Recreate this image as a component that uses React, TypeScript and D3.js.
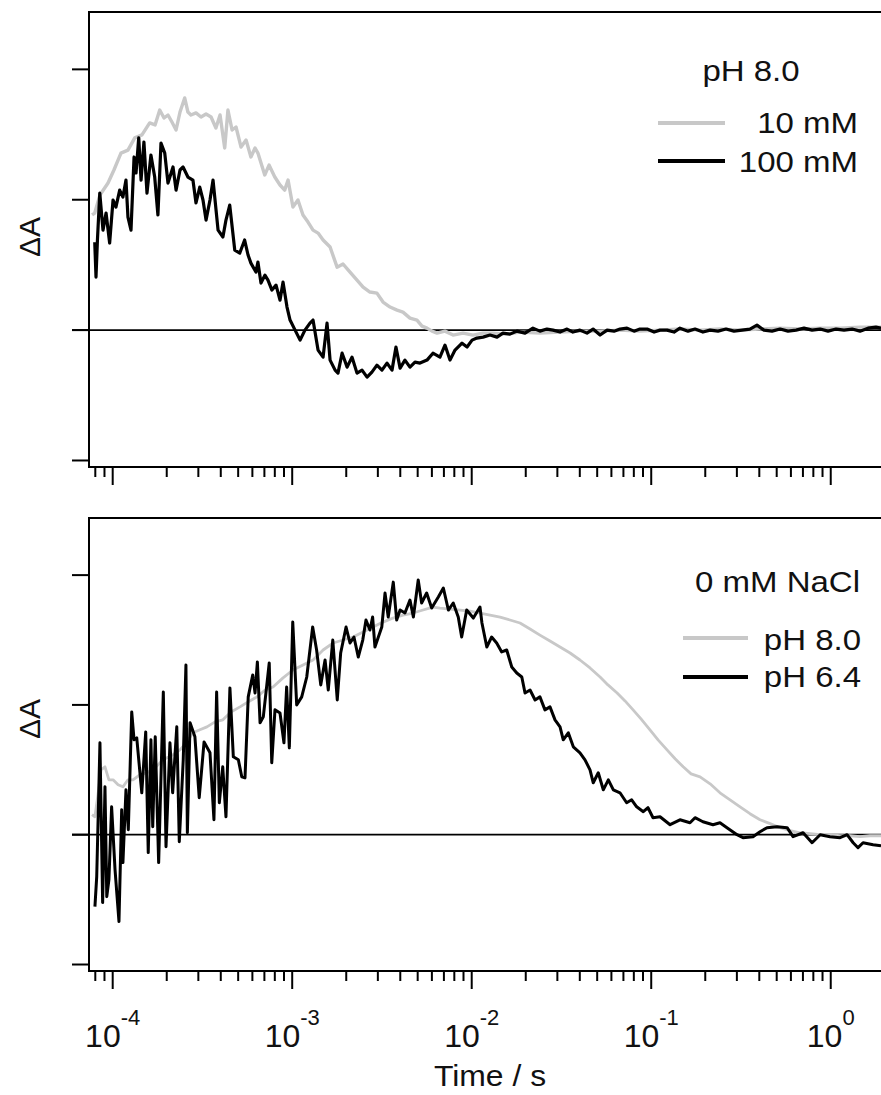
import React from 'react';
import * as d3 from 'd3';

// ---------- data (x = log10(time / s), y = ΔA in arbitrary units, 1 unit = tick spacing) ----------
const X_TICK_EXPONENTS = [-4, -3, -2, -1, 0];
const Y_TICKS = [-1, 0, 1, 2];
const X_LABEL = 'Time / s';
const Y_LABEL = 'ΔA';
const TOP_LEGEND_TITLE = 'pH 8.0';
const TOP_LEGEND = ['10 mM', '100 mM'];
const BOTTOM_LEGEND_TITLE = '0 mM NaCl';
const BOTTOM_LEGEND = ['pH 8.0', 'pH 6.4'];

// Top panel, 10 mM (grey)
const top10mM: [number, number][] = [
  [-4.115, 0.883], [-4.100, 0.898], [-4.071, 1.036], [-4.026, 1.128], [-3.993, 1.228], [-3.954, 1.358], [-3.915, 1.381], [-3.877, 1.474], [-3.837, 1.497], [-3.794, 1.589],
  [-3.764, 1.574], [-3.738, 1.688], [-3.714, 1.627], [-3.692, 1.650], [-3.670, 1.596], [-3.647, 1.535], [-3.625, 1.673], [-3.599, 1.781], [-3.581, 1.673], [-3.564, 1.650],
  [-3.536, 1.666], [-3.508, 1.635], [-3.480, 1.658], [-3.452, 1.635], [-3.425, 1.550], [-3.402, 1.650], [-3.376, 1.397], [-3.358, 1.688], [-3.335, 1.535], [-3.313, 1.558],
  [-3.285, 1.404], [-3.257, 1.458], [-3.230, 1.328], [-3.207, 1.397], [-3.191, 1.358], [-3.153, 1.190], [-3.129, 1.266], [-3.097, 1.174], [-3.068, 1.113], [-3.042, 1.074],
  [-3.023, 1.151], [-2.996, 0.944], [-2.968, 0.998], [-2.940, 0.883], [-2.912, 0.829], [-2.884, 0.767], [-2.856, 0.744], [-2.828, 0.691], [-2.789, 0.637], [-2.750, 0.483],
  [-2.717, 0.507], [-2.678, 0.445], [-2.639, 0.384], [-2.605, 0.330], [-2.567, 0.292], [-2.528, 0.284], [-2.494, 0.215], [-2.455, 0.177], [-2.416, 0.153], [-2.383, 0.138],
  [-2.344, 0.092], [-2.305, 0.077], [-2.277, 0.031], [-2.249, 0.015], [-2.221, -0.008], [-2.193, -0.023], [-2.149, -0.008], [-2.104, -0.038], [-2.048, -0.023], [-1.993, -0.038],
  [-1.937, -0.023], [-1.881, -0.023], [-1.815, -0.031], [-1.731, -0.015], [-1.620, -0.023], [-1.508, -0.015], [-1.397, -0.008], [-1.285, -0.008], [-1.174, 0], [-1.063, -0.008],
  [-0.951, 0], [-0.840, 0.008], [-0.728, 0], [-0.617, 0.008], [-0.505, 0], [-0.394, 0.008], [-0.282, 0.015], [-0.171, 0.008], [-0.059, 0.015], [0.052, 0.015],
  [0.163, 0.023], [0.280, 0.023],
];

// Top panel, 100 mM (black)
const top100mM: [number, number][] = [
  [-4.100, 0.675], [-4.093, 0.407], [-4.085, 0.691], [-4.072, 1.051], [-4.054, 0.767], [-4.037, 0.898], [-4.017, 0.668], [-3.998, 0.998], [-3.982, 0.944], [-3.961, 1.074],
  [-3.943, 1.021], [-3.926, 1.151], [-3.915, 0.867], [-3.898, 0.767], [-3.881, 1.328], [-3.870, 1.205], [-3.855, 1.474], [-3.842, 1.151], [-3.826, 1.443], [-3.809, 1.051],
  [-3.787, 1.343], [-3.766, 1.174], [-3.748, 0.883], [-3.731, 1.435], [-3.710, 1.358], [-3.692, 1.128], [-3.664, 1.251], [-3.647, 1.074], [-3.625, 1.228], [-3.608, 1.251],
  [-3.581, 1.174], [-3.553, 1.151], [-3.536, 0.975], [-3.515, 1.097], [-3.497, 0.998], [-3.480, 0.844], [-3.458, 0.998], [-3.441, 1.151], [-3.413, 0.767], [-3.386, 0.714],
  [-3.369, 0.844], [-3.348, 0.959], [-3.320, 0.614], [-3.292, 0.591], [-3.265, 0.691], [-3.246, 0.576], [-3.230, 0.514], [-3.202, 0.445], [-3.191, 0.522], [-3.174, 0.361],
  [-3.152, 0.422], [-3.135, 0.384], [-3.113, 0.307], [-3.090, 0.345], [-3.068, 0.230], [-3.051, 0.368], [-3.029, 0.177], [-3.012, 0.077], [-2.984, 0], [-2.956, -0.077],
  [-2.929, 0], [-2.901, 0.054], [-2.884, 0.077], [-2.856, -0.153], [-2.828, -0.207], [-2.806, 0.054], [-2.789, -0.230], [-2.761, -0.307], [-2.745, -0.330], [-2.722, -0.177],
  [-2.694, -0.284], [-2.667, -0.207], [-2.639, -0.330], [-2.611, -0.307], [-2.583, -0.361], [-2.556, -0.322], [-2.528, -0.269], [-2.500, -0.307], [-2.472, -0.253], [-2.444, -0.307],
  [-2.422, -0.130], [-2.399, -0.292], [-2.372, -0.230], [-2.344, -0.284], [-2.316, -0.246], [-2.288, -0.253], [-2.249, -0.230], [-2.216, -0.177], [-2.177, -0.207], [-2.149, -0.115],
  [-2.121, -0.230], [-2.093, -0.153], [-2.054, -0.100], [-2.026, -0.130], [-1.998, -0.077], [-1.971, -0.061], [-1.937, -0.054], [-1.898, -0.038], [-1.859, -0.054], [-1.826, -0.023],
  [-1.787, -0.031], [-1.748, -0.008], [-1.703, -0.023], [-1.659, 0.015], [-1.620, -0.008], [-1.581, 0.008], [-1.547, 0], [-1.508, -0.015], [-1.469, 0.008], [-1.436, -0.015],
  [-1.397, 0], [-1.358, -0.023], [-1.324, 0.008], [-1.285, -0.038], [-1.246, 0], [-1.207, -0.008], [-1.174, 0.008], [-1.135, 0.015], [-1.096, -0.008], [-1.063, 0.008],
  [-1.023, 0.008], [-0.984, -0.015], [-0.951, 0], [-0.912, 0], [-0.873, -0.015], [-0.840, 0.015], [-0.795, -0.008], [-0.756, 0.008], [-0.712, -0.015], [-0.672, 0],
  [-0.628, -0.008], [-0.583, 0.008], [-0.539, -0.008], [-0.494, 0], [-0.450, 0.008], [-0.411, 0.038], [-0.372, 0], [-0.327, -0.008], [-0.282, 0.008], [-0.238, -0.008],
  [-0.193, 0], [-0.149, 0.015], [-0.104, 0], [-0.059, 0.008], [-0.015, -0.008], [0.030, 0.008], [0.074, 0], [0.119, 0.008], [0.163, -0.008], [0.208, 0.015],
  [0.252, 0.023], [0.280, 0.015],
];

// Bottom panel, pH 8.0 (grey)
const bottomPH80: [number, number][] = [
  [-4.115, 0.154], [-4.099, 0.138], [-4.082, 0.308], [-4.065, 0.500], [-4.043, 0.523], [-4.021, 0.423], [-3.998, 0.423], [-3.970, 0.385], [-3.943, 0.369], [-3.915, 0.423],
  [-3.887, 0.423], [-3.848, 0.462], [-3.809, 0.477], [-3.764, 0.515], [-3.720, 0.577], [-3.675, 0.608], [-3.625, 0.654], [-3.586, 0.715], [-3.553, 0.785], [-3.514, 0.808],
  [-3.475, 0.831], [-3.430, 0.869], [-3.386, 0.885], [-3.341, 0.946], [-3.291, 0.985], [-3.246, 1.023], [-3.196, 1.062], [-3.151, 1.115], [-3.107, 1.138], [-3.051, 1.208],
  [-2.996, 1.269], [-2.940, 1.308], [-2.884, 1.346], [-2.828, 1.423], [-2.772, 1.477], [-2.717, 1.500], [-2.661, 1.523], [-2.605, 1.562], [-2.550, 1.600], [-2.494, 1.638],
  [-2.438, 1.669], [-2.383, 1.692], [-2.327, 1.708], [-2.271, 1.731], [-2.216, 1.754], [-2.177, 1.746], [-2.121, 1.738], [-2.065, 1.731], [-2.009, 1.723], [-1.954, 1.708],
  [-1.898, 1.692], [-1.842, 1.677], [-1.787, 1.654], [-1.731, 1.631], [-1.675, 1.585], [-1.620, 1.538], [-1.564, 1.492], [-1.508, 1.446], [-1.452, 1.400], [-1.397, 1.346],
  [-1.341, 1.285], [-1.285, 1.215], [-1.241, 1.154], [-1.190, 1.092], [-1.146, 1.031], [-1.101, 0.962], [-1.057, 0.892], [-1.007, 0.808], [-0.962, 0.731], [-0.912, 0.654],
  [-0.867, 0.585], [-0.822, 0.523], [-0.778, 0.469], [-0.728, 0.446], [-0.672, 0.392], [-0.617, 0.323], [-0.561, 0.269], [-0.505, 0.215], [-0.450, 0.162], [-0.394, 0.115],
  [-0.338, 0.085], [-0.282, 0.054], [-0.226, 0.031], [-0.171, 0.015], [-0.115, 0.008], [-0.059, 0], [-0.004, 0], [0.052, -0.008], [0.108, -0.008], [0.163, -0.015],
  [0.219, -0.008], [0.280, -0.008],
];

// Bottom panel, pH 6.4 (black)
const bottomPH64: [number, number][] = [
  [-4.099, -0.554], [-4.089, -0.323], [-4.071, 0.708], [-4.056, -0.523], [-4.043, 0.369], [-4.033, -0.477], [-4.021, -0.346], [-4.006, 0.215], [-3.987, -0.269], [-3.965, -0.669],
  [-3.950, 0.192], [-3.943, -0.215], [-3.926, 0.346], [-3.913, 0.038], [-3.894, 0.946], [-3.881, 0.731], [-3.866, 0.746], [-3.838, 0.323], [-3.816, 0.792], [-3.802, -0.138],
  [-3.787, 0.731], [-3.777, 0.062], [-3.763, 0.754], [-3.744, -0.215], [-3.718, 1.100], [-3.703, -0.092], [-3.681, 0.708], [-3.666, 0.323], [-3.643, 0.831], [-3.629, -0.054],
  [-3.607, 0.577], [-3.592, 1.308], [-3.584, 0.015], [-3.569, 0.862], [-3.542, 0.754], [-3.518, 0.285], [-3.491, 0.715], [-3.458, 0.631], [-3.436, 0.115], [-3.421, 1.100],
  [-3.406, 0.246], [-3.387, 0.523], [-3.369, 0.138], [-3.347, 1.131], [-3.328, 0.600], [-3.300, 0.577], [-3.281, 0.446], [-3.263, 0.438], [-3.245, 1.062], [-3.220, 1.231],
  [-3.207, 1.092], [-3.194, 1.331], [-3.179, 0.862], [-3.161, 0.908], [-3.128, 1.323], [-3.114, 0.554], [-3.096, 0.962], [-3.068, 0.938], [-3.046, 0.708], [-3.031, 1.138],
  [-3.016, 0.669], [-2.997, 1.638], [-2.975, 1.000], [-2.947, 1.062], [-2.919, 1.215], [-2.886, 1.600], [-2.864, 1.423], [-2.841, 1.154], [-2.817, 1.346], [-2.799, 1.115],
  [-2.774, 1.500], [-2.749, 1.038], [-2.730, 1.400], [-2.700, 1.600], [-2.678, 1.477], [-2.656, 1.523], [-2.632, 1.369], [-2.607, 1.500], [-2.589, 1.654], [-2.567, 1.577],
  [-2.552, 1.677], [-2.539, 1.446], [-2.520, 1.523], [-2.501, 1.600], [-2.483, 1.862], [-2.465, 1.677], [-2.437, 1.946], [-2.418, 1.654], [-2.399, 1.731], [-2.372, 1.708],
  [-2.344, 1.808], [-2.325, 1.677], [-2.298, 1.962], [-2.279, 1.785], [-2.251, 1.862], [-2.223, 1.746], [-2.186, 1.831], [-2.158, 1.900], [-2.130, 1.731], [-2.103, 1.785],
  [-2.075, 1.677], [-2.056, 1.523], [-2.028, 1.731], [-1.991, 1.669], [-1.954, 1.754], [-1.943, 1.631], [-1.916, 1.446], [-1.889, 1.523], [-1.861, 1.477], [-1.833, 1.408],
  [-1.805, 1.423], [-1.777, 1.292], [-1.749, 1.246], [-1.721, 1.215], [-1.703, 1.092], [-1.675, 1.115], [-1.647, 1.038], [-1.620, 1.062], [-1.592, 0.962], [-1.564, 0.985],
  [-1.536, 0.885], [-1.508, 0.831], [-1.490, 0.731], [-1.462, 0.785], [-1.434, 0.677], [-1.397, 0.631], [-1.369, 0.577], [-1.341, 0.500], [-1.323, 0.400], [-1.295, 0.477],
  [-1.267, 0.346], [-1.239, 0.423], [-1.211, 0.346], [-1.174, 0.323], [-1.137, 0.246], [-1.109, 0.269], [-1.081, 0.215], [-1.044, 0.177], [-1.018, 0.208], [-0.990, 0.131],
  [-0.951, 0.138], [-0.895, 0.077], [-0.840, 0.115], [-0.784, 0.092], [-0.756, 0.131], [-0.712, 0.100], [-0.656, 0.077], [-0.617, 0.092], [-0.578, 0.054], [-0.522, 0],
  [-0.489, -0.023], [-0.433, -0.015], [-0.394, 0.023], [-0.355, 0.054], [-0.299, 0.062], [-0.243, 0.054], [-0.210, -0.015], [-0.154, 0.015], [-0.104, -0.062], [-0.059, 0],
  [-0.004, -0.015], [0.052, -0.023], [0.091, 0], [0.125, -0.062], [0.152, -0.100], [0.180, -0.062], [0.236, -0.077], [0.280, -0.085],
];

const GREY = '#c8c8c8';
const FONT = '"Liberation Sans", Arial, Helvetica, sans-serif';

const W = 881;
const H = 1095;
const PLOT_LEFT = 89;
const PLOT_RIGHT = 881;
const X_DOMAIN_LOG: [number, number] = [-4.132, 0.28];
const Y_DOMAIN: [number, number] = [-1.05, 2.44];

const xScale = d3
  .scaleLog()
  .domain([Math.pow(10, X_DOMAIN_LOG[0]), Math.pow(10, X_DOMAIN_LOG[1])])
  .range([PLOT_LEFT, PLOT_RIGHT]);

type PanelProps = {
  id: string;
  top: number;
  bottom: number;
  series: { data: [number, number][]; color: string; width: number }[];
  legendTitle: string;
  legendTitleX: number;
  legendTitleY: number;
  legendTitleAnchor: 'middle' | 'end';
  legendLabels: string[];
  legendLineX: [number, number];
  legendLineY: number[];
  legendTextX: number;
  legendTextY: number[];
  yLabelY: number;
  showTickLabels: boolean;
};

function StretchText(props: {
  x: number;
  y: number;
  anchor: 'start' | 'middle' | 'end';
  size: number;
  sx?: number;
  children: React.ReactNode;
}) {
  const sx = props.sx ?? 1.1;
  return (
    <text
      transform={`translate(${props.x},${props.y}) scale(${sx},1)`}
      textAnchor={props.anchor}
      fontFamily={FONT}
      fontSize={props.size}
      fill="#111"
    >
      {props.children}
    </text>
  );
}

function Panel(p: PanelProps) {
  const y = d3.scaleLinear().domain(Y_DOMAIN).range([p.bottom, p.top]);
  const line = d3
    .line<[number, number]>()
    .x((d) => xScale(Math.pow(10, d[0])))
    .y((d) => y(d[1]));

  const ticks: { v: number; major: boolean }[] = [];
  const [d0, d1] = xScale.domain();
  for (let e = -5; e <= 1; e++) {
    for (let k = 1; k <= 9; k++) {
      const v = k * Math.pow(10, e);
      if (v >= d0 && v <= d1) ticks.push({ v, major: k === 1 });
    }
  }

  return (
    <g>
      <defs>
        <clipPath id={`clip-${p.id}`}>
          <rect x={PLOT_LEFT} y={p.top} width={PLOT_RIGHT - PLOT_LEFT} height={p.bottom - p.top} />
        </clipPath>
      </defs>
      {/* zero line */}
      <line x1={72} x2={PLOT_RIGHT} y1={y(0)} y2={y(0)} stroke="#000" strokeWidth={1.8} />
      {/* series */}
      <g clipPath={`url(#clip-${p.id})`}>
        {p.series.map((s, i) => (
          <path
            key={i}
            d={line(s.data) ?? ''}
            fill="none"
            stroke={s.color}
            strokeWidth={s.width}
            strokeLinejoin="round"
          />
        ))}
      </g>
      {/* frame */}
      <line x1={PLOT_LEFT} x2={PLOT_RIGHT} y1={p.top} y2={p.top} stroke="#000" strokeWidth={2} />
      <line x1={PLOT_LEFT} x2={PLOT_RIGHT} y1={p.bottom} y2={p.bottom} stroke="#000" strokeWidth={2} />
      <line x1={PLOT_LEFT} x2={PLOT_LEFT} y1={p.top - 1} y2={p.bottom + 1} stroke="#000" strokeWidth={2} />
      {/* y ticks */}
      {Y_TICKS.map((t) => (
        <line key={t} x1={72} x2={PLOT_LEFT} y1={y(t)} y2={y(t)} stroke="#000" strokeWidth={2} />
      ))}
      {/* x ticks */}
      {ticks.map((t, i) => (
        <line
          key={i}
          x1={xScale(t.v)}
          x2={xScale(t.v)}
          y1={p.bottom}
          y2={p.bottom + (t.major ? 18 : 10)}
          stroke="#000"
          strokeWidth={2}
        />
      ))}
      {p.showTickLabels &&
        X_TICK_EXPONENTS.map((e) => (
          <text
            key={e}
            x={xScale(Math.pow(10, e))}
            y={p.bottom + 76}
            textAnchor="middle"
            fontFamily={FONT}
            fontSize={32}
            fill="#111"
          >
            <tspan>10</tspan>
            <tspan dy={-22} fontSize={22}>
              {String(e)}
            </tspan>
          </text>
        ))}
      {/* y label */}
      <text
        transform={`translate(40,${p.yLabelY}) rotate(-90)`}
        textAnchor="middle"
        fontFamily={FONT}
        fontSize={30}
        fill="#111"
      >
        {Y_LABEL}
      </text>
      {/* legend */}
      <StretchText x={p.legendTitleX} y={p.legendTitleY} anchor={p.legendTitleAnchor} size={30}>
        {p.legendTitle}
      </StretchText>
      {p.legendLabels.map((lab, i) => (
        <g key={lab}>
          <line
            x1={p.legendLineX[0]}
            x2={p.legendLineX[1]}
            y1={p.legendLineY[i]}
            y2={p.legendLineY[i]}
            stroke={p.series[i].color}
            strokeWidth={4}
          />
          <StretchText x={p.legendTextX} y={p.legendTextY[i]} anchor="end" size={30}>
            {lab}
          </StretchText>
        </g>
      ))}
    </g>
  );
}

export default function App() {
  return (
    <svg
      width={W}
      height={H}
      viewBox={`0 0 ${W} ${H}`}
      style={{ position: 'absolute', left: 0, top: 0, background: '#fff' }}
    >
      <rect x={0} y={0} width={W} height={H} fill="#fff" />
      <Panel
        id="top"
        top={12}
        bottom={467}
        series={[
          { data: top10mM, color: GREY, width: 3.4 },
          { data: top100mM, color: '#000', width: 3.2 },
        ]}
        legendTitle={TOP_LEGEND_TITLE}
        legendTitleX={751}
        legendTitleY={81}
        legendTitleAnchor="middle"
        legendLabels={TOP_LEGEND}
        legendLineX={[658, 725]}
        legendLineY={[123, 161]}
        legendTextX={858}
        legendTextY={[133, 172]}
        yLabelY={237}
        showTickLabels={false}
      />
      <Panel
        id="bottom"
        top={518}
        bottom={971}
        series={[
          { data: bottomPH80, color: GREY, width: 2.8 },
          { data: bottomPH64, color: '#000', width: 3 },
        ]}
        legendTitle={BOTTOM_LEGEND_TITLE}
        legendTitleX={860}
        legendTitleY={592}
        legendTitleAnchor="end"
        legendLabels={BOTTOM_LEGEND}
        legendLineX={[683, 748]}
        legendLineY={[638, 677]}
        legendTextX={861}
        legendTextY={[650, 687]}
        yLabelY={719}
        showTickLabels={true}
      />
      <StretchText x={490} y={1086} anchor="middle" size={29}>
        {X_LABEL}
      </StretchText>
    </svg>
  );
}
